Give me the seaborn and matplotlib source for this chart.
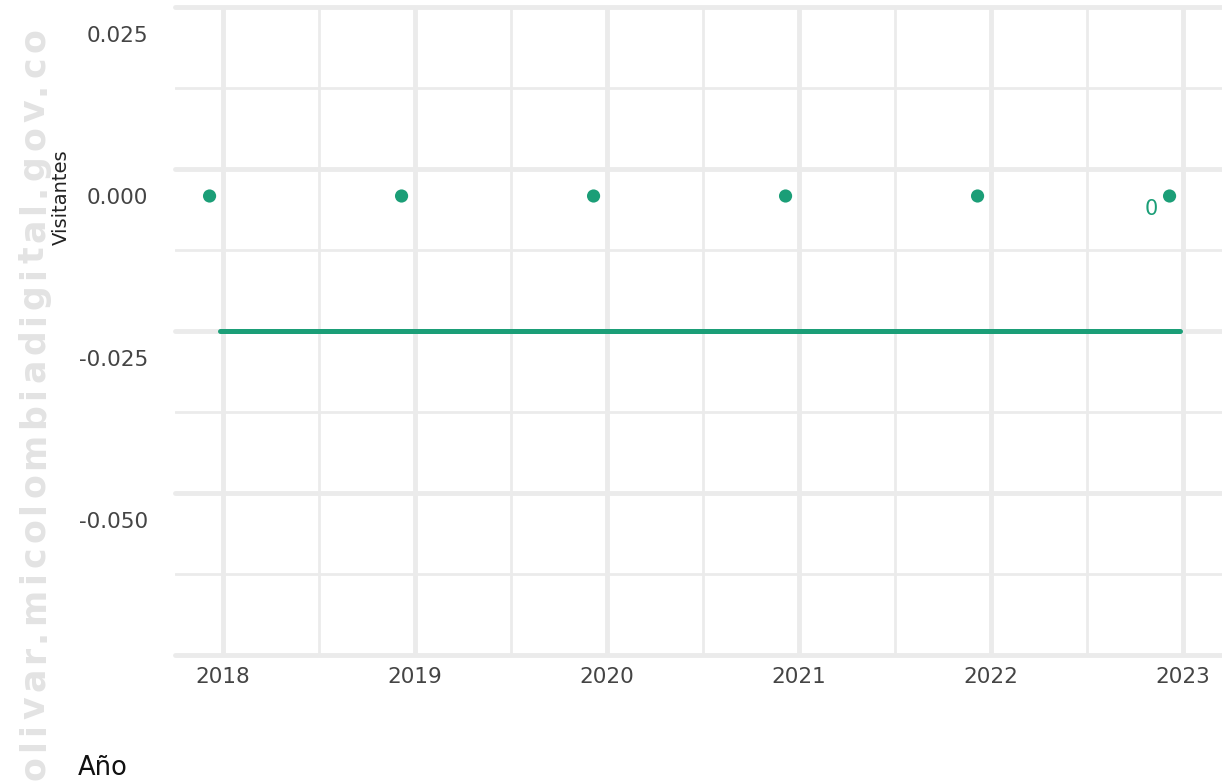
import matplotlib
matplotlib.use("Agg")
import matplotlib.pyplot as plt
import matplotlib.transforms as mtransforms
from matplotlib import font_manager
from matplotlib.ft2font import FT2Font
import seaborn as sns
import pandas as pd

# Yearly visitor counts (all zero) and the reference line
years = [2017.93, 2018.93, 2019.93, 2020.93, 2021.93, 2022.93]
visitantes = [0, 0, 0, 0, 0, 0]
ref_x = [2017.985, 2022.985]
ref_y = [-0.0208, -0.0208]

x_ticks = [2018, 2019, 2020, 2021, 2022, 2023]
x_minor = [2018.5, 2019.5, 2020.5, 2021.5, 2022.5]
y_ticks = [0.025, 0.0, -0.025, -0.050, -0.075]
y_tick_labels = ["0.025", "0.000", "-0.025", "-0.050", ""]
y_minor = [0.0125, -0.0125, -0.0375, -0.0625]

watermark = "olivar.micolombiadigital.gov.co"

# the grid sits slightly above the value labels
grid_shift = 0.025 * 27 / 162

GREEN = "#1b9e77"
GRID = "#ebebeb"

sns.set_theme(style="white")
plt.rcParams["font.family"] = ["DejaVu Sans"]

W, H = 1222, 784
DPI = 100
fig = plt.figure(figsize=(W / DPI, H / DPI), dpi=DPI)
ax = fig.add_axes([175 / W, 1 - 655 / H, 1 - 175 / W, (655 - 7) / H])

df_pts = pd.DataFrame({"Año": years, "Visitantes": visitantes})
df_line = pd.DataFrame({"Año": ref_x, "Visitantes": ref_y})

sns.lineplot(data=df_line, x="Año", y="Visitantes", color=GREEN,
             linewidth=3.6, ax=ax, zorder=3)
sns.scatterplot(data=df_pts, x="Año", y="Visitantes", color=GREEN, s=90,
                edgecolor="none", ax=ax, zorder=4)

# value label on the latest year
ax.annotate(f"{visitantes[-1]:g}", xy=(years[-1], visitantes[-1]),
            xytext=(-13, -9.5), textcoords="offset points",
            ha="center", va="center", fontsize=15, color=GREEN)

ax.set_xticks(x_ticks)
ax.set_xticks(x_minor, minor=True)
ax.set_yticks([t + grid_shift for t in y_ticks], labels=y_tick_labels)
ax.set_yticks([t + grid_shift for t in y_minor], minor=True)

ax.set_xlim(2017.75, 2023 + 39 / 192)
ax.set_ylim(-0.075 + grid_shift, 0.025 + grid_shift)

ax.set_axisbelow(True)
ax.grid(which="major", color=GRID, linewidth=3.5)
ax.grid(which="minor", color=GRID, linewidth=2.0)
for gl in ax.get_ygridlines():
    gl.set_clip_on(False)

for side in ax.spines.values():
    side.set_visible(False)

ax.tick_params(axis="both", which="both", length=0)
ax.tick_params(axis="both", which="major", labelsize=15.5, labelcolor="#444444")
ax.tick_params(axis="y", which="major", pad=19.4)
ax.tick_params(axis="x", which="major", pad=8.5)

ax.set_xlabel("")
ax.set_ylabel("")

offset = mtransforms.ScaledTranslation(0, -27 / DPI, fig.dpi_scale_trans)
for lab in ax.get_yticklabels():
    lab.set_transform(lab.get_transform() + offset)

# faint, letter-spaced site watermark running up the left edge
wm_size = 25
wm_props = font_manager.FontProperties(family="DejaVu Sans", weight="bold")
ft = FT2Font(font_manager.findfont(wm_props))
ft.set_size(wm_size, DPI)
advances = []
for ch in watermark:
    glyph = ft.load_char(ord(ch))
    advances.append(glyph.linearHoriAdvance / 65536)
spacing = 4.5
length = sum(advances) + spacing * (len(watermark) - 1)
pos = 28 + length  # pixels from the top where the first letter starts
for ch, adv in zip(watermark, advances):
    fig.text(44 / W, 1 - pos / H, ch, rotation=90, rotation_mode="anchor",
             ha="left", va="baseline", fontproperties=wm_props,
             fontsize=wm_size, color="#e3e3e3", zorder=0)
    pos -= adv + spacing

fig.text(61 / W, 1 - 197 / H, "Visitantes", rotation=90,
         ha="center", va="center", fontsize=14, color="#222222")
fig.text(78 / W, 1 - 775 / H, "Año", ha="left", va="baseline",
         fontsize=18.5, color="#111111")

fig.savefig("out.png", dpi=DPI, facecolor="white")
